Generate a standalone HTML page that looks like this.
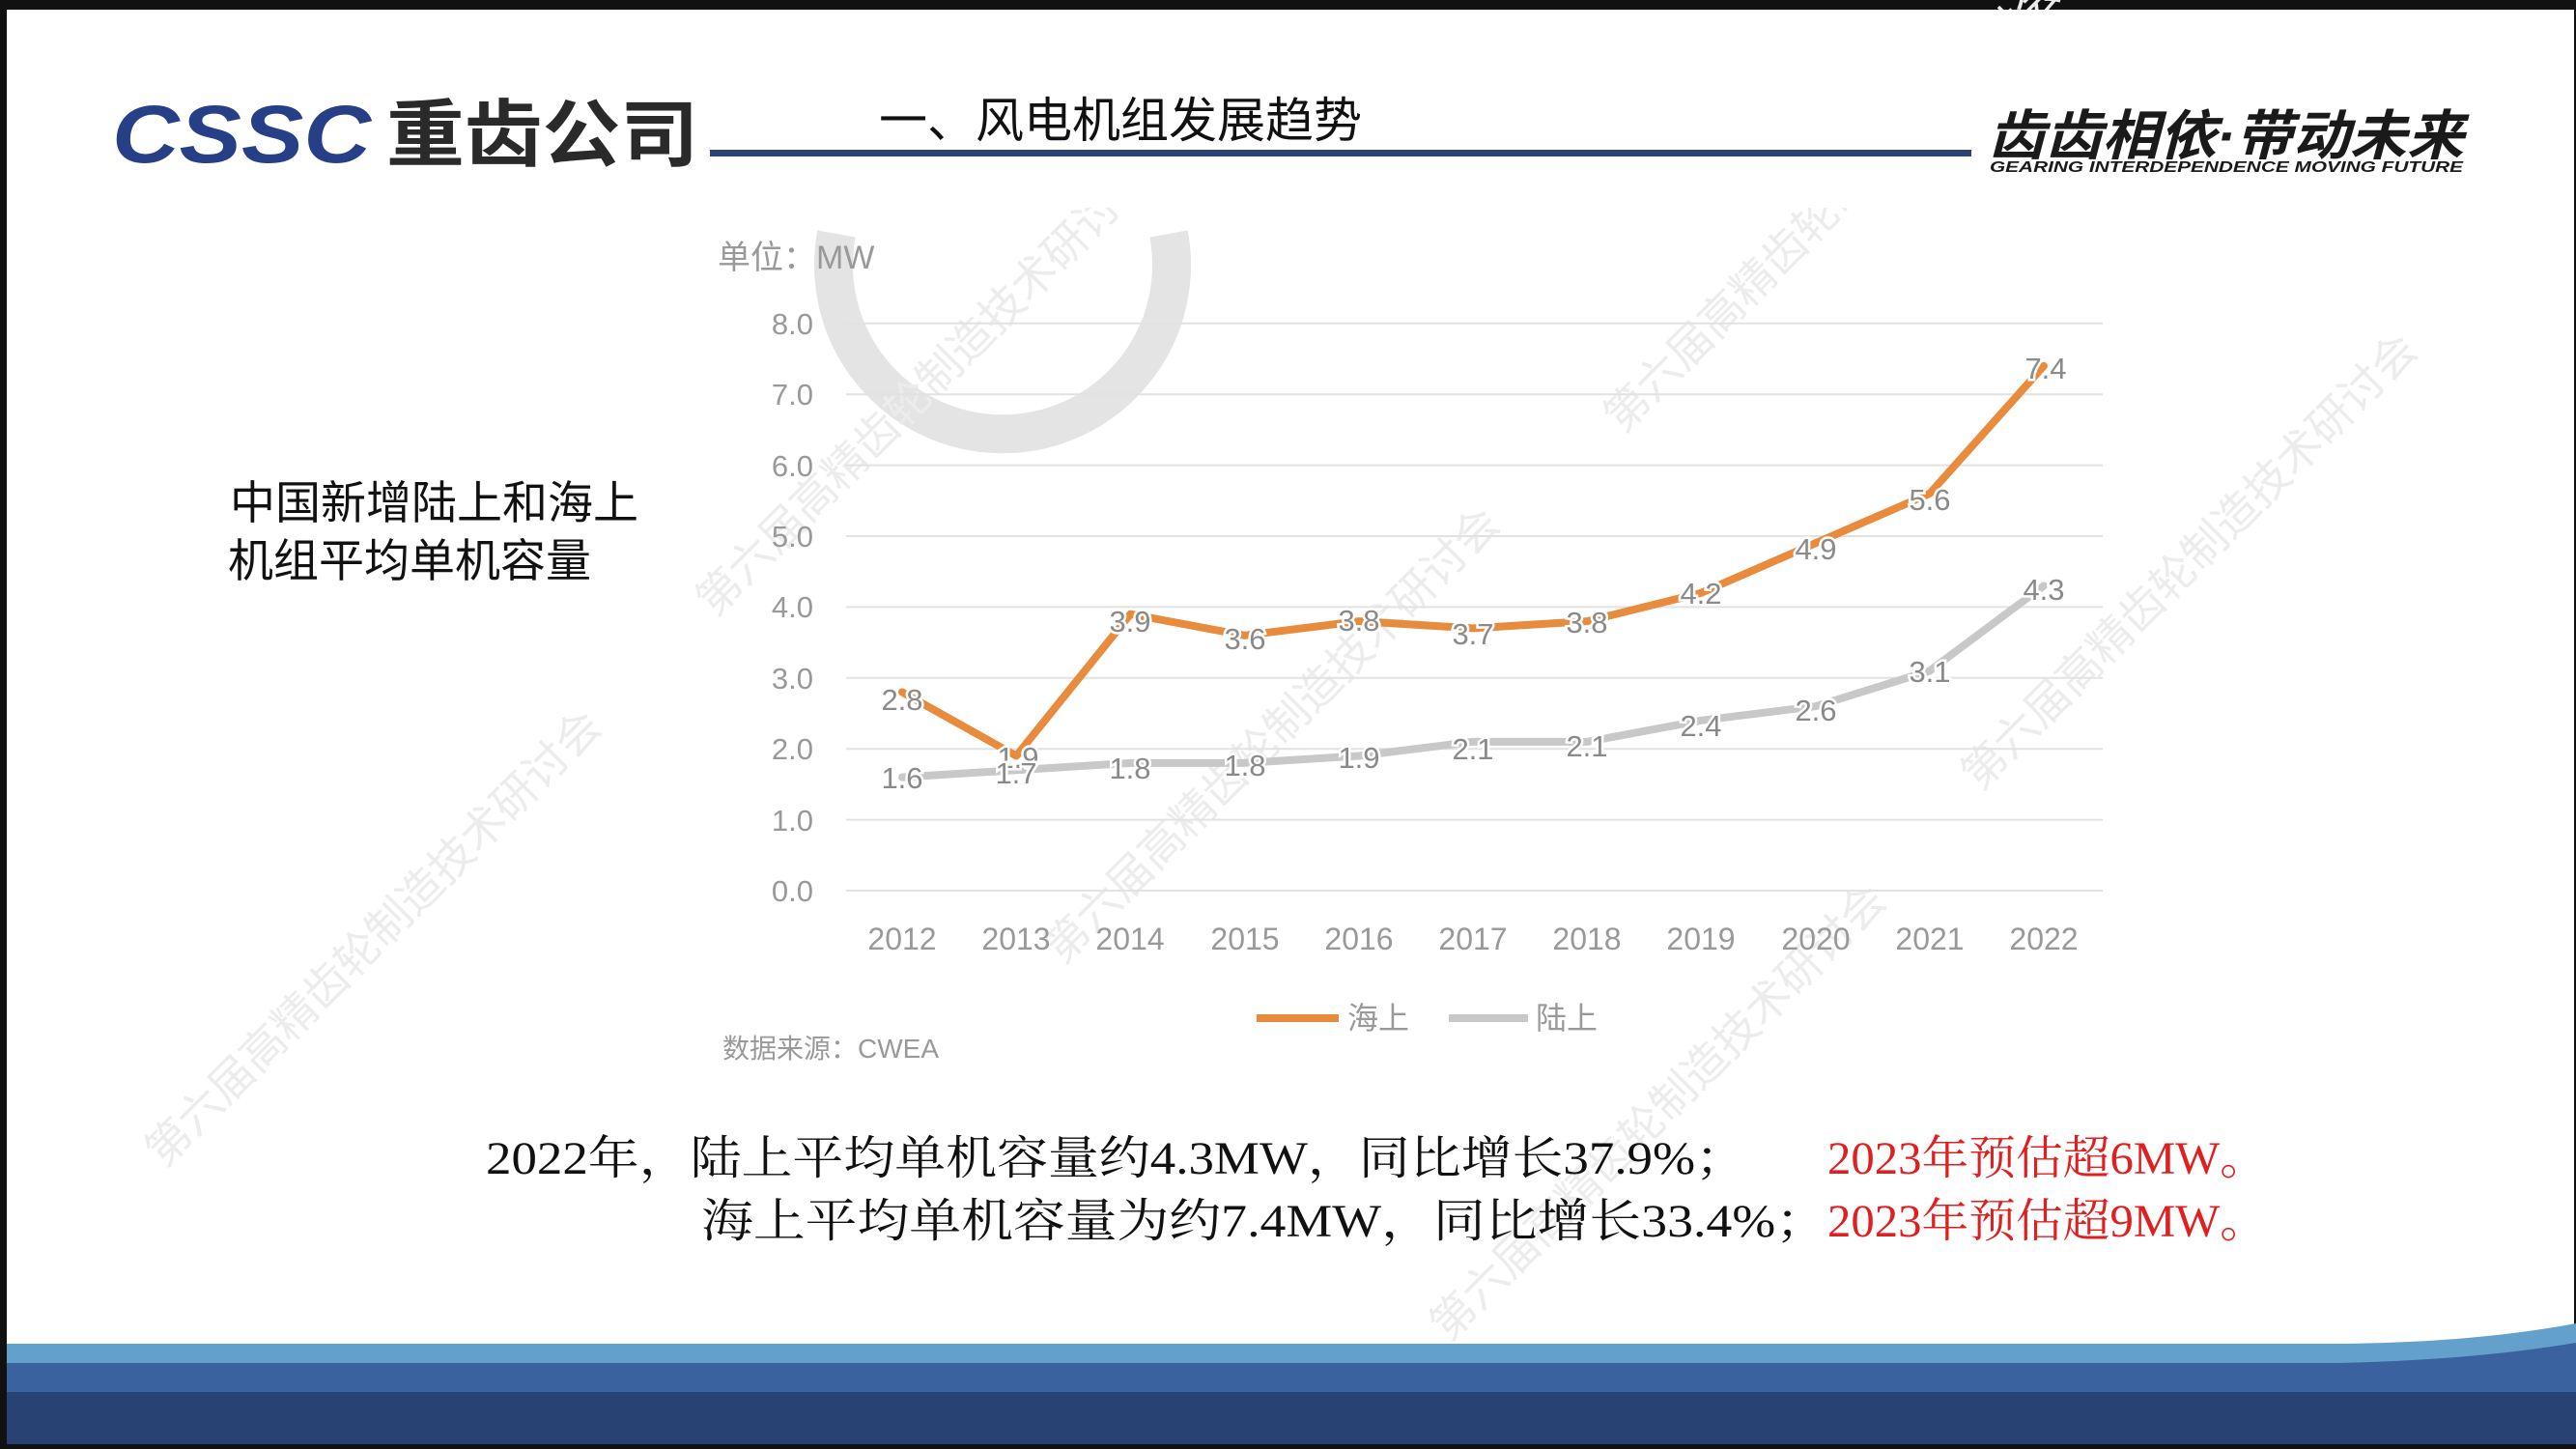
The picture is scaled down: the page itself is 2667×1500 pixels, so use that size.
<!DOCTYPE html>
<html><head><meta charset="utf-8"><style>
html,body{margin:0;padding:0;}
body{width:2667px;height:1500px;overflow:hidden;background:#111;position:relative;}
#page{position:absolute;left:7px;top:10px;width:2658px;height:1485px;background:#fff;overflow:hidden;}
svg{position:absolute;left:0;top:0;}
</style></head><body>
<div id="page"></div>
<svg width="2667" height="1500" viewBox="0 0 2667 1500" xmlns="http://www.w3.org/2000/svg">
<rect x="7" y="1391" width="2660" height="20" fill="#64a0cc"/>
<path d="M2420 1391 Q2560 1390 2667 1370 L2667 1411 L2420 1411 Z" fill="#64a0cc"/>
<rect x="7" y="1411" width="2660" height="30" fill="#3a629f"/>
<path d="M2420 1411 Q2560 1408 2667 1390 L2667 1441 L2420 1441Z" fill="#3a629f"/>
<rect x="7" y="1441" width="2660" height="54" fill="#284274"/>
<path d="M866 242 A175 175 0 1 0 1210 242" fill="none" stroke="#e4e4e4" stroke-width="40"/>
<g font-family="'Liberation Sans','Noto Sans CJK SC',sans-serif" font-size="46" fill="#ececec">
<text transform="translate(740,640) rotate(-45)">第六届高精齿轮制造技术研讨会</text>
<text transform="translate(1680,450) rotate(-45)">第六届高精齿轮制造技术研讨会</text>
<text transform="translate(2050,820) rotate(-45)">第六届高精齿轮制造技术研讨会</text>
<text transform="translate(170,1210) rotate(-45)">第六届高精齿轮制造技术研讨会</text>
<text transform="translate(1100,1000) rotate(-45)">第六届高精齿轮制造技术研讨会</text>
<text transform="translate(1500,1390) rotate(-45)">第六届高精齿轮制造技术研讨会</text>
</g>
<rect x="7" y="10" width="2658" height="205" fill="#fff"/>
<text x="116" y="168" font-family="'Liberation Sans',sans-serif" font-weight="bold" font-style="italic" font-size="84" fill="#263f86" textLength="268" lengthAdjust="spacingAndGlyphs">CSSC</text>
<text x="400" y="166" font-family="'Liberation Sans','Noto Sans CJK SC',sans-serif" font-weight="bold" font-size="76" fill="#2a2a2a" textLength="323" lengthAdjust="spacingAndGlyphs">重齿公司</text>
<rect x="735" y="155" width="1306" height="7" fill="#2b4379"/>
<text x="910" y="142" font-family="'Liberation Sans','Noto Sans CJK SC',sans-serif" font-size="50" fill="#111">一、风电机组发展趋势</text>
<text x="2058" y="160" font-family="'Liberation Sans','Noto Sans CJK SC',sans-serif" font-weight="bold" font-style="italic" font-size="56" fill="#1a1a1a" textLength="493" lengthAdjust="spacingAndGlyphs">齿齿相依·带动未来</text>
<text x="2060" y="178" font-family="'Liberation Sans',sans-serif" font-weight="bold" font-style="italic" font-size="16" fill="#1a1a1a" textLength="490" lengthAdjust="spacingAndGlyphs">GEARING INTERDEPENDENCE MOVING FUTURE</text>
<g font-family="'Liberation Sans','Noto Sans CJK SC',sans-serif" font-size="47" fill="#111">
<text x="238" y="537">中国新增陆上和海上</text>
<text x="236" y="597">机组平均单机容量</text>
</g>
<text x="743" y="278" font-family="'Liberation Sans','Noto Sans CJK SC',sans-serif" font-size="34" fill="#999">单位：MW</text>
<g stroke="#e2e2e2" stroke-width="2">
<line x1="876" x2="2177" y1="922" y2="922"/><line x1="876" x2="2177" y1="848.6" y2="848.6"/>
<line x1="876" x2="2177" y1="775.2" y2="775.2"/><line x1="876" x2="2177" y1="701.8" y2="701.8"/>
<line x1="876" x2="2177" y1="628.4" y2="628.4"/><line x1="876" x2="2177" y1="555" y2="555"/>
<line x1="876" x2="2177" y1="481.6" y2="481.6"/><line x1="876" x2="2177" y1="408.2" y2="408.2"/>
<line x1="876" x2="2177" y1="334.8" y2="334.8"/>
</g>
<g font-family="'Liberation Sans',sans-serif" font-size="31" fill="#999" text-anchor="end">
<text x="842" y="933">0.0</text><text x="842" y="860">1.0</text><text x="842" y="786">2.0</text>
<text x="842" y="713">3.0</text><text x="842" y="639">4.0</text><text x="842" y="566">5.0</text>
<text x="842" y="493">6.0</text><text x="842" y="419">7.0</text><text x="842" y="346">8.0</text>
</g>
<g font-family="'Liberation Sans',sans-serif" font-size="32" fill="#999" text-anchor="middle">
<text x="934" y="983">2012</text><text x="1052" y="983">2013</text><text x="1170" y="983">2014</text>
<text x="1289" y="983">2015</text><text x="1407" y="983">2016</text><text x="1525" y="983">2017</text>
<text x="1643" y="983">2018</text><text x="1761" y="983">2019</text><text x="1880" y="983">2020</text>
<text x="1998" y="983">2021</text><text x="2116" y="983">2022</text>
</g>
<polyline fill="none" stroke="#c8c8c8" stroke-width="8" stroke-linejoin="round" stroke-linecap="round" points="934,804.6 1052.2,797.2 1170.4,789.9 1288.6,789.9 1406.8,782.5 1525,767.9 1643.2,767.9 1761.4,745.8 1879.6,731.2 1997.8,694.5 2116,606.4"/>
<polyline fill="none" stroke="#e98b3d" stroke-width="8" stroke-linejoin="round" stroke-linecap="round" points="934,716.5 1052.2,782.5 1170.4,635.7 1288.6,657.8 1406.8,643.1 1525,650.4 1643.2,643.1 1761.4,613.7 1879.6,562.3 1997.8,511 2116,378.8"/>
<g font-family="'Liberation Sans',sans-serif" font-size="31" fill="#8a8a8a" text-anchor="middle" stroke="#fff" stroke-width="5" paint-order="stroke">
<text x="934" y="735">2.8</text><text x="1054" y="795">1.9</text><text x="1170" y="654">3.9</text>
<text x="1289" y="672">3.6</text><text x="1407" y="653">3.8</text><text x="1525" y="667">3.7</text>
<text x="1643" y="655">3.8</text><text x="1761" y="625">4.2</text><text x="1880" y="579">4.9</text>
<text x="1998" y="528">5.6</text><text x="2118" y="392">7.4</text>
<text x="934" y="816">1.6</text><text x="1052" y="811">1.7</text><text x="1170" y="806">1.8</text>
<text x="1289" y="803">1.8</text><text x="1407" y="795">1.9</text><text x="1525" y="786">2.1</text>
<text x="1643" y="783">2.1</text><text x="1761" y="762">2.4</text><text x="1880" y="746">2.6</text>
<text x="1998" y="706">3.1</text><text x="2116" y="621">4.3</text>
</g>
<line x1="1301" x2="1386" y1="1054" y2="1054" stroke="#e98b3d" stroke-width="8"/>
<text x="1395" y="1065" font-family="'Liberation Sans','Noto Sans CJK SC',sans-serif" font-size="32" fill="#999">海上</text>
<line x1="1500" x2="1582" y1="1054" y2="1054" stroke="#c8c8c8" stroke-width="8"/>
<text x="1590" y="1065" font-family="'Liberation Sans','Noto Sans CJK SC',sans-serif" font-size="32" fill="#999">陆上</text>
<text x="748" y="1095" font-family="'Liberation Sans','Noto Sans CJK SC',sans-serif" font-size="28" fill="#999">数据来源：CWEA</text>
<g font-family="'Liberation Serif','Noto Serif CJK SC',serif" font-size="48">
<text x="503" y="1215" fill="#111" textLength="1305" lengthAdjust="spacingAndGlyphs">2022年，陆上平均单机容量约4.3MW，同比增长37.9%；</text>
<text x="1892" y="1215" fill="#e02020" textLength="455" lengthAdjust="spacingAndGlyphs">2023年预估超6MW。</text>
<text x="726" y="1280" fill="#111" textLength="1166" lengthAdjust="spacingAndGlyphs">海上平均单机容量为约7.4MW，同比增长33.4%；</text>
<text x="1892" y="1280" fill="#e02020" textLength="455" lengthAdjust="spacingAndGlyphs">2023年预估超9MW。</text>
</g>
</svg>
</body></html>
